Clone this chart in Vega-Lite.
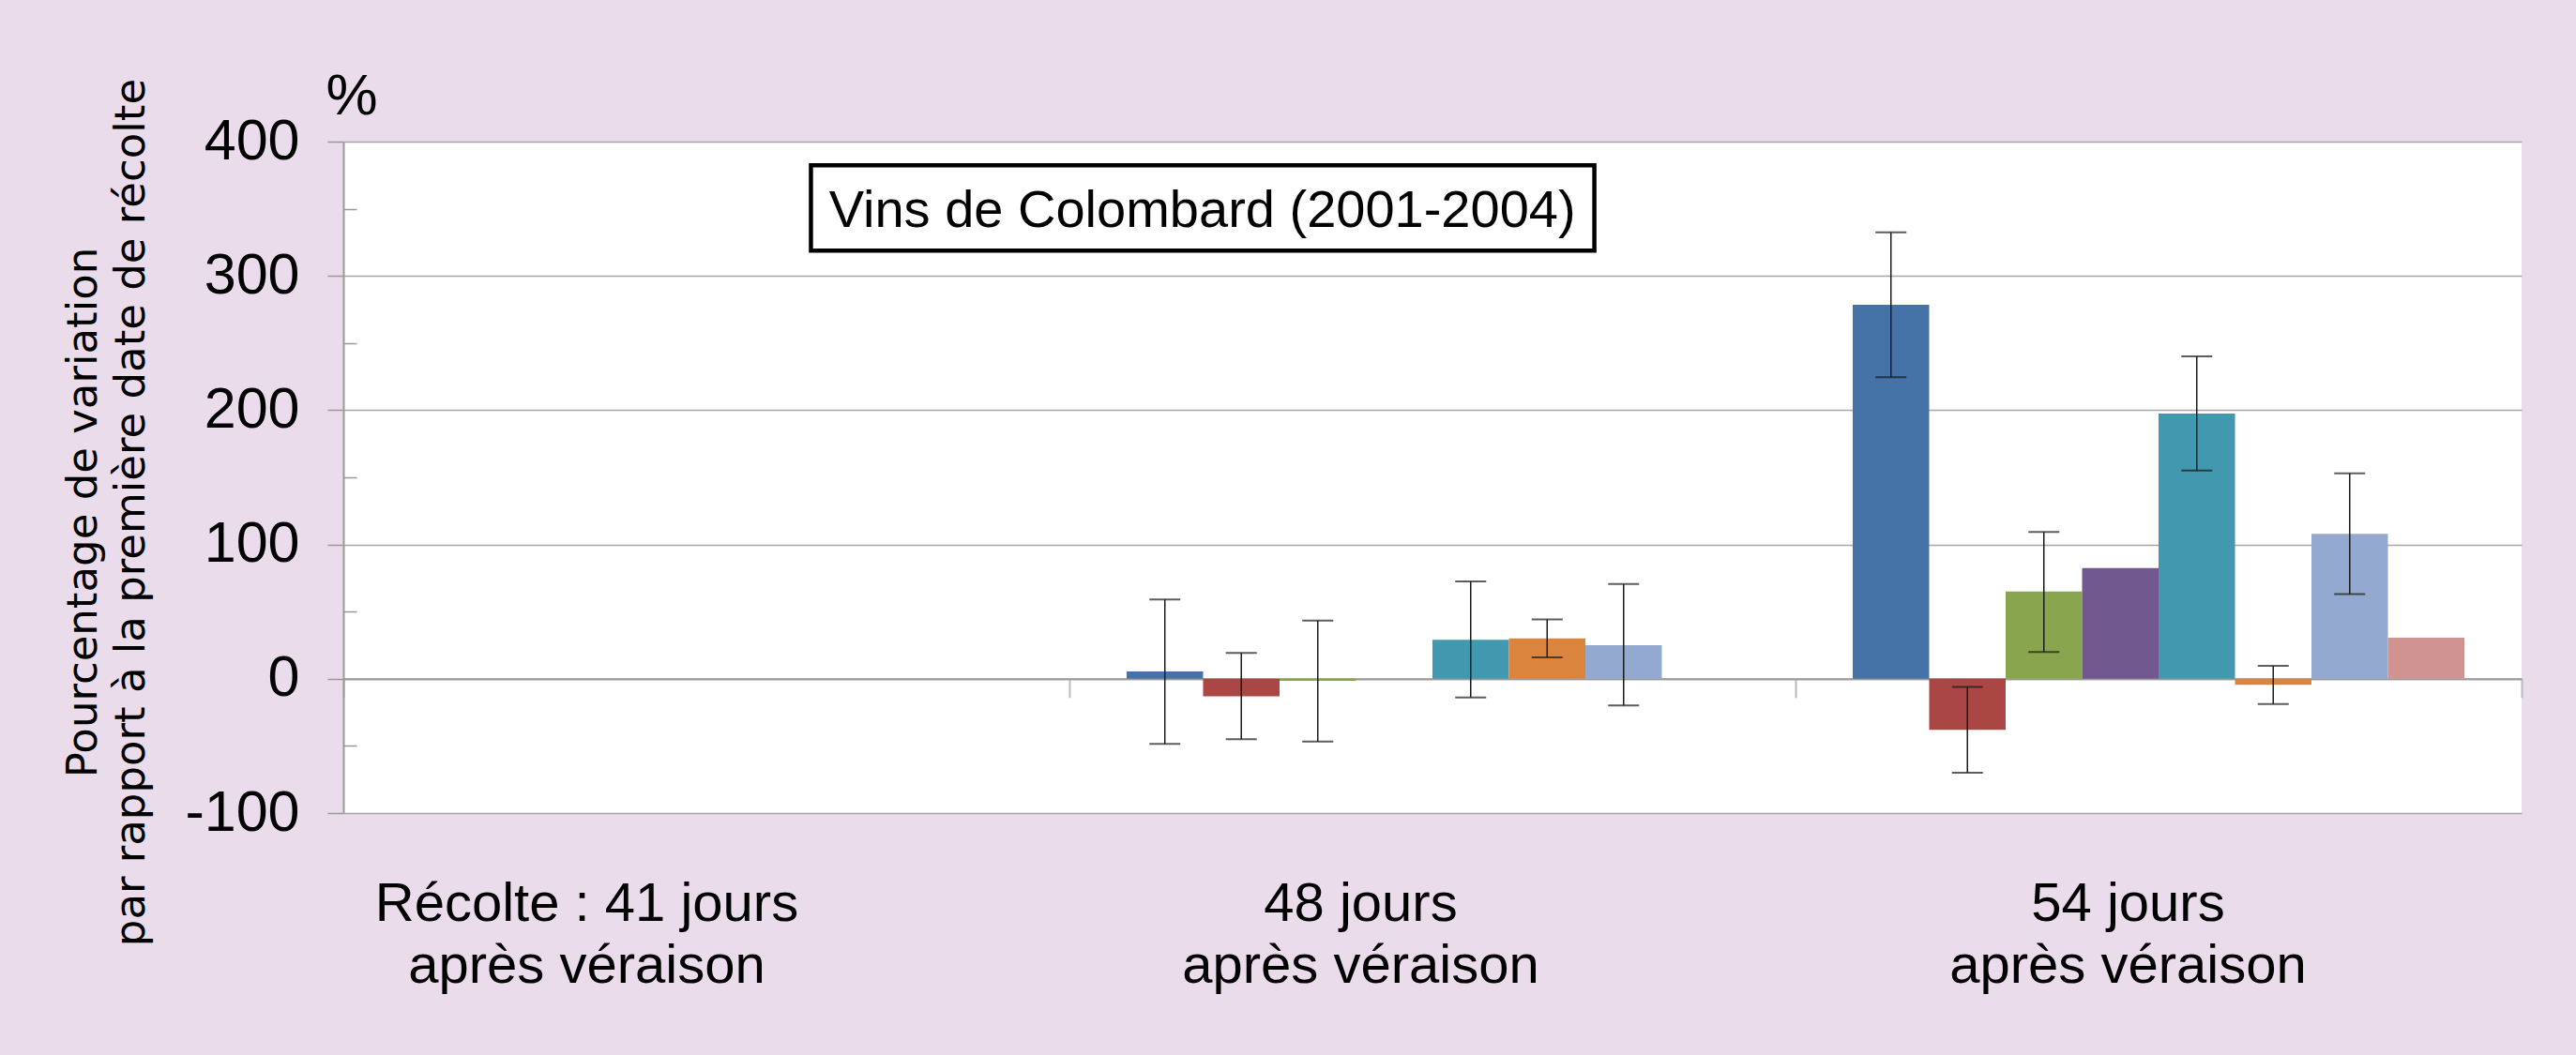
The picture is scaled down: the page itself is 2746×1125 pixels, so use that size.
{
  "$schema": "https://vega.github.io/schema/vega-lite/v6.json",
  "width": 2322,
  "height": 716,
  "autosize": {"type": "none"},
  "padding": {"left": 366, "top": 151, "right": 58, "bottom": 258},
  "background": "#EADCEB",
  "config": {"view": {"fill": "white", "stroke": null}, "font": "Liberation Sans"},
  "layer": [
    {
      "data": {
        "values": [
          {"recolte": "48 jours", "serie": "série 1", "valeur": 5.4, "bas": -48.5, "haut": 59},
          {"recolte": "48 jours", "serie": "série 2", "valeur": -13, "bas": -45, "haut": 19.3},
          {"recolte": "48 jours", "serie": "série 3", "valeur": -1.5, "bas": -46.8, "haut": 43.4},
          {"recolte": "48 jours", "serie": "série 5", "valeur": 29, "bas": -14, "haut": 72.4},
          {"recolte": "48 jours", "serie": "série 6", "valeur": 30, "bas": 16, "haut": 44.2},
          {"recolte": "48 jours", "serie": "série 7", "valeur": 25, "bas": -19.8, "haut": 70.5},
          {"recolte": "54 jours", "serie": "série 1", "valeur": 278.5, "bas": 224.6, "haut": 332.5},
          {"recolte": "54 jours", "serie": "série 2", "valeur": -38, "bas": -70, "haut": -6},
          {"recolte": "54 jours", "serie": "série 3", "valeur": 65, "bas": 20, "haut": 109.3},
          {"recolte": "54 jours", "serie": "série 4", "valeur": 82.5},
          {"recolte": "54 jours", "serie": "série 5", "valeur": 197.5, "bas": 155, "haut": 240},
          {"recolte": "54 jours", "serie": "série 6", "valeur": -4.5, "bas": -18.8, "haut": 9.6},
          {"recolte": "54 jours", "serie": "série 7", "valeur": 108, "bas": 63, "haut": 153},
          {"recolte": "54 jours", "serie": "série 8", "valeur": 30.5}
        ]
      },
      "encoding": {
        "x": {
          "field": "recolte",
          "type": "nominal",
          "scale": {"domain": ["41 jours", "48 jours", "54 jours"], "paddingInner": 0, "paddingOuter": 0},
          "axis": {
            "title": null,
            "orient": "bottom",
            "offset": -143.2,
            "domainColor": "#999999",
            "domainWidth": 2,
            "ticks": true,
            "tickBand": "extent",
            "tickSize": 20,
            "tickColor": "#BBBBBB",
            "tickWidth": 2,
            "labelAngle": 0,
            "labelFont": "Liberation Sans",
            "labelFontSize": 58,
            "labelColor": "black",
            "labelBaseline": "alphabetic",
            "labelPadding": 238,
            "labelLineHeight": 66,
            "labelLimit": 0,
            "labelOverlap": false,
            "labelBound": false,
            "labelFlush": false,
            "labelExpr": "datum.value === '41 jours' ? ['Récolte : 41 jours', 'après véraison'] : (datum.value === '48 jours' || datum.value === '54 jours') ? [datum.value, 'après véraison'] : ''",
            "labelOffset": {
              "condition": [
                {"test": "datum.value === '41 jours'", "value": -128},
                {"test": "datum.value === '48 jours'", "value": -77}
              ],
              "value": -33
            },
            "grid": false
          }
        },
        "xOffset": {
          "field": "serie",
          "type": "nominal",
          "scale": {
            "domain": ["série 1", "série 2", "série 3", "série 4", "série 5", "série 6", "série 7", "série 8"],
            "paddingInner": 0,
            "paddingOuter": 0.748
          }
        }
      },
      "layer": [
        {
          "mark": {"type": "bar"},
          "encoding": {
            "y": {
              "field": "valeur",
              "type": "quantitative",
              "scale": {"domain": [-100, 400], "nice": false, "zero": false},
              "axis": {
                "title": ["Pourcentage de variation", "par rapport à la première date de récolte"],
                "titleFont": "DejaVu Sans",
                "titleFontSize": 45,
                "titleFontWeight": "normal",
                "titleColor": "black",
                "titleAngle": -90,
                "titleX": -264,
                "titleY": 395,
                "titleAlign": "center",
                "titleBaseline": "alphabetic",
                "titleLineHeight": 51,
                "titleLimit": 0,
                "values": [-100, -50, 0, 50, 100, 150, 200, 250, 300, 350, 400],
                "labelExpr": "datum.value % 100 === 0 ? '' + datum.value : ''",
                "labelFont": "Liberation Sans",
                "labelFontSize": 61,
                "labelColor": "black",
                "labelPadding": 30,
                "domainColor": "#999999",
                "domainWidth": 2,
                "tickColor": "#999999",
                "tickWidth": 1.5,
                "tickSize": {"condition": {"test": "datum.value % 100 !== 0", "value": -14}, "value": 17},
                "grid": true,
                "gridColor": "#A6A6A6",
                "gridWidth": 1.5,
                "gridOpacity": {"condition": {"test": "datum.value % 100 !== 0", "value": 0}, "value": 1}
              }
            },
            "color": {
              "field": "serie",
              "type": "nominal",
              "scale": {
                "domain": ["série 1", "série 2", "série 3", "série 4", "série 5", "série 6", "série 7", "série 8"],
                "range": ["#4572A7", "#AA4643", "#89A54E", "#71588F", "#4198AF", "#DB843D", "#93A9CF", "#D19392"]
              },
              "legend": null
            }
          }
        },
        {
          "mark": {"type": "rule", "color": "#1a1a1a", "strokeWidth": 1.5},
          "encoding": {
            "y": {"field": "bas", "type": "quantitative", "scale": {"domain": [-100, 400], "nice": false, "zero": false}},
            "y2": {"field": "haut"}
          }
        },
        {
          "mark": {"type": "tick", "color": "#1a1a1a", "thickness": 2, "size": 33, "orient": "horizontal"},
          "encoding": {
            "y": {"field": "bas", "type": "quantitative", "scale": {"domain": [-100, 400], "nice": false, "zero": false}}
          }
        },
        {
          "mark": {"type": "tick", "color": "#1a1a1a", "thickness": 2, "size": 33, "orient": "horizontal"},
          "encoding": {
            "y": {"field": "haut", "type": "quantitative", "scale": {"domain": [-100, 400], "nice": false, "zero": false}}
          }
        }
      ]
    },
    {
      "data": {"values": [{"titre": "Vins de Colombard (2001-2004)", "unite": "%"}]},
      "layer": [
        {
          "mark": {"type": "rect", "fill": "white", "stroke": "black", "strokeWidth": 4.5},
          "encoding": {
            "x": {"datum": 0.644, "type": "quantitative", "scale": {"domain": [0, 3], "nice": false, "zero": false}, "axis": null},
            "x2": {"datum": 1.723},
            "y": {"datum": 382.3, "type": "quantitative", "scale": {"domain": [-100, 400], "nice": false, "zero": false}},
            "y2": {"datum": 318.8}
          }
        },
        {
          "mark": {"type": "text", "font": "Liberation Sans", "fontSize": 56, "align": "center", "baseline": "alphabetic", "color": "black"},
          "encoding": {
            "text": {"field": "titre"},
            "x": {"datum": 1.183, "type": "quantitative", "scale": {"domain": [0, 3], "nice": false, "zero": false}, "axis": null},
            "y": {"datum": 336.2, "type": "quantitative", "scale": {"domain": [-100, 400], "nice": false, "zero": false}}
          }
        },
        {
          "mark": {"type": "text", "font": "Liberation Sans", "fontSize": 62, "align": "center", "baseline": "alphabetic", "color": "black"},
          "encoding": {
            "text": {"field": "unite"},
            "x": {"datum": 0.0116, "type": "quantitative", "scale": {"domain": [0, 3], "nice": false, "zero": false}, "axis": null},
            "y": {"datum": 420.3, "type": "quantitative", "scale": {"domain": [-100, 400], "nice": false, "zero": false}}
          }
        }
      ]
    }
  ],
  "resolve": {"scale": {"x": "independent"}, "axis": {"x": "independent"}}
}
